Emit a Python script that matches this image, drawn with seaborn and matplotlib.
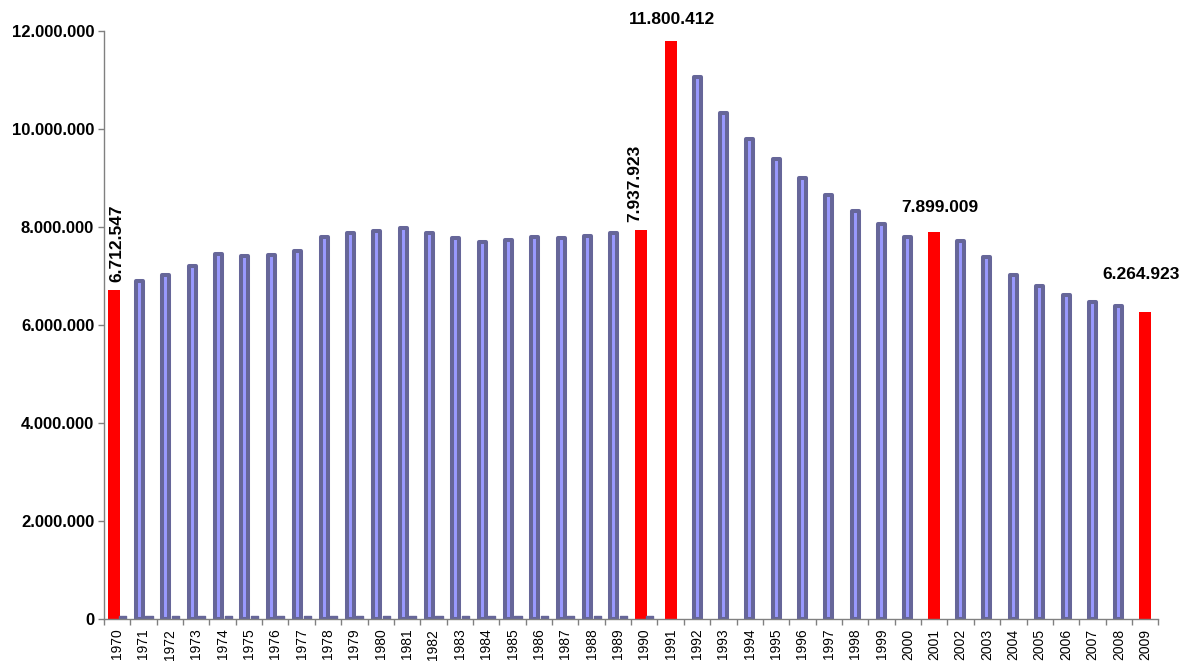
import matplotlib
matplotlib.use("Agg")
import matplotlib.pyplot as plt
import matplotlib.ticker as mticker
import seaborn as sns
import pandas as pd

years = [str(y) for y in range(1970, 2010)]
values = [6712547, 6900000, 7020000, 7200000, 7440000, 7410000, 7430000, 7510000,
          7800000, 7880000, 7920000, 7980000, 7880000, 7780000, 7690000, 7730000,
          7800000, 7780000, 7820000, 7880000, 7937923, 11800412, 11060000, 10330000,
          9800000, 9390000, 9000000, 8650000, 8330000, 8070000, 7800000, 7899009,
          7710000, 7390000, 7020000, 6800000, 6610000, 6470000, 6390000, 6264923]
small_years = years[:21]
small_values = [60000, 60000, 60000, 60000, 60000, 60000, 60000, 60000, 60000, 60000,
                60000, 60000, 60000, 60000, 60000, 60000, 60000, 60000, 60000, 60000, 60000]
highlight = ["1970", "1990", "1991", "2001", "2009"]
labels = {"1970": "6.712.547", "1990": "7.937.923", "1991": "11.800.412",
          "2001": "7.899.009", "2009": "6.264.923"}

sns.set_style("white")
plt.rcParams["font.family"] = ["Liberation Sans", "DejaVu Sans"]
plt.rcParams["text.color"] = "black"
plt.rcParams["xtick.color"] = "black"
plt.rcParams["ytick.color"] = "black"

fig, ax = plt.subplots(figsize=(11.88, 6.62), dpi=100)
fig.subplots_adjust(left=0.0875, right=0.975, bottom=0.065, top=0.953)

df = pd.DataFrame({"year": years, "value": values})
blue = df[~df.year.isin(highlight)]
red = df[df.year.isin(highlight)]

sns.barplot(data=blue, x="year", y="value", order=years, color="#9999FF",
            width=0.265, edgecolor="#666699", linewidth=2.9, saturation=1, ax=ax)
n_blue = len(ax.patches)
sns.barplot(data=red, x="year", y="value", order=years, color="#FF0000",
            width=0.455, linewidth=0, saturation=1, ax=ax)
n_main = len(ax.patches)
sns.barplot(x=small_years, y=small_values, order=years, color="#666699",
            width=0.27, edgecolor="#666699", linewidth=1.0, saturation=1, ax=ax)

patches = ax.patches
for i, p in enumerate(patches):
    p.set_joinstyle("round")
    c = p.get_x() + p.get_width() / 2
    idx = int(round(c))
    if i < n_blue:
        if idx <= 20:
            p.set_x(p.get_x() - 0.15)
    elif i < n_main:
        if idx <= 20:
            p.set_x(p.get_x() - 0.11)
    else:
        p.set_x(p.get_x() + 0.21)

ax.set_xlim(-0.5, len(years) - 0.5)
ax.set_ylim(0, 12000000)
ax.set_yticks(range(0, 12000001, 2000000))
ax.yaxis.set_major_formatter(mticker.FuncFormatter(lambda v, p: f"{int(v):,}".replace(",", ".")))
ax.set_xlabel("")
ax.set_ylabel("")

for lab in ax.get_yticklabels():
    lab.set_fontweight("bold")
    lab.set_fontsize(12)
    lab.set_color("black")
ax.tick_params(axis="y", length=4, width=1, color="#808080", labelcolor="black", pad=3, left=True)
ax.set_xticks(range(len(years)))
ax.set_xticklabels(years, rotation=90, fontsize=10, color="black")
ax.tick_params(axis="x", which="major", length=0, pad=7)
ax.set_xticks([i - 0.5 for i in range(len(years) + 1)], minor=True)
ax.tick_params(axis="x", which="minor", length=4, width=1, color="#808080", bottom=True)

for s in ["top", "right"]:
    ax.spines[s].set_visible(False)
for s in ["left", "bottom"]:
    ax.spines[s].set_color("#808080")
    ax.spines[s].set_linewidth(1)

# annotations
ann = {
    "1970": dict(dx=0.0, dy=6, rot=90),
    "1990": dict(dx=-0.38, dy=6, rot=90),
    "1991": dict(dx=0.05, dy=10, rot=0),
    "2001": dict(dx=0.2, dy=12, rot=0),
    "2009": dict(dx=-0.15, dy=22, rot=0),
}
for yr, cfg in ann.items():
    i = years.index(yr)
    ax.annotate(labels[yr], xy=(i + cfg["dx"], values[i]), xytext=(0, cfg["dy"]),
                textcoords="offset points", ha="center", va="bottom",
                rotation=cfg["rot"], fontsize=12.5, fontweight="bold", color="black")

fig.savefig("out.png", dpi=100)
